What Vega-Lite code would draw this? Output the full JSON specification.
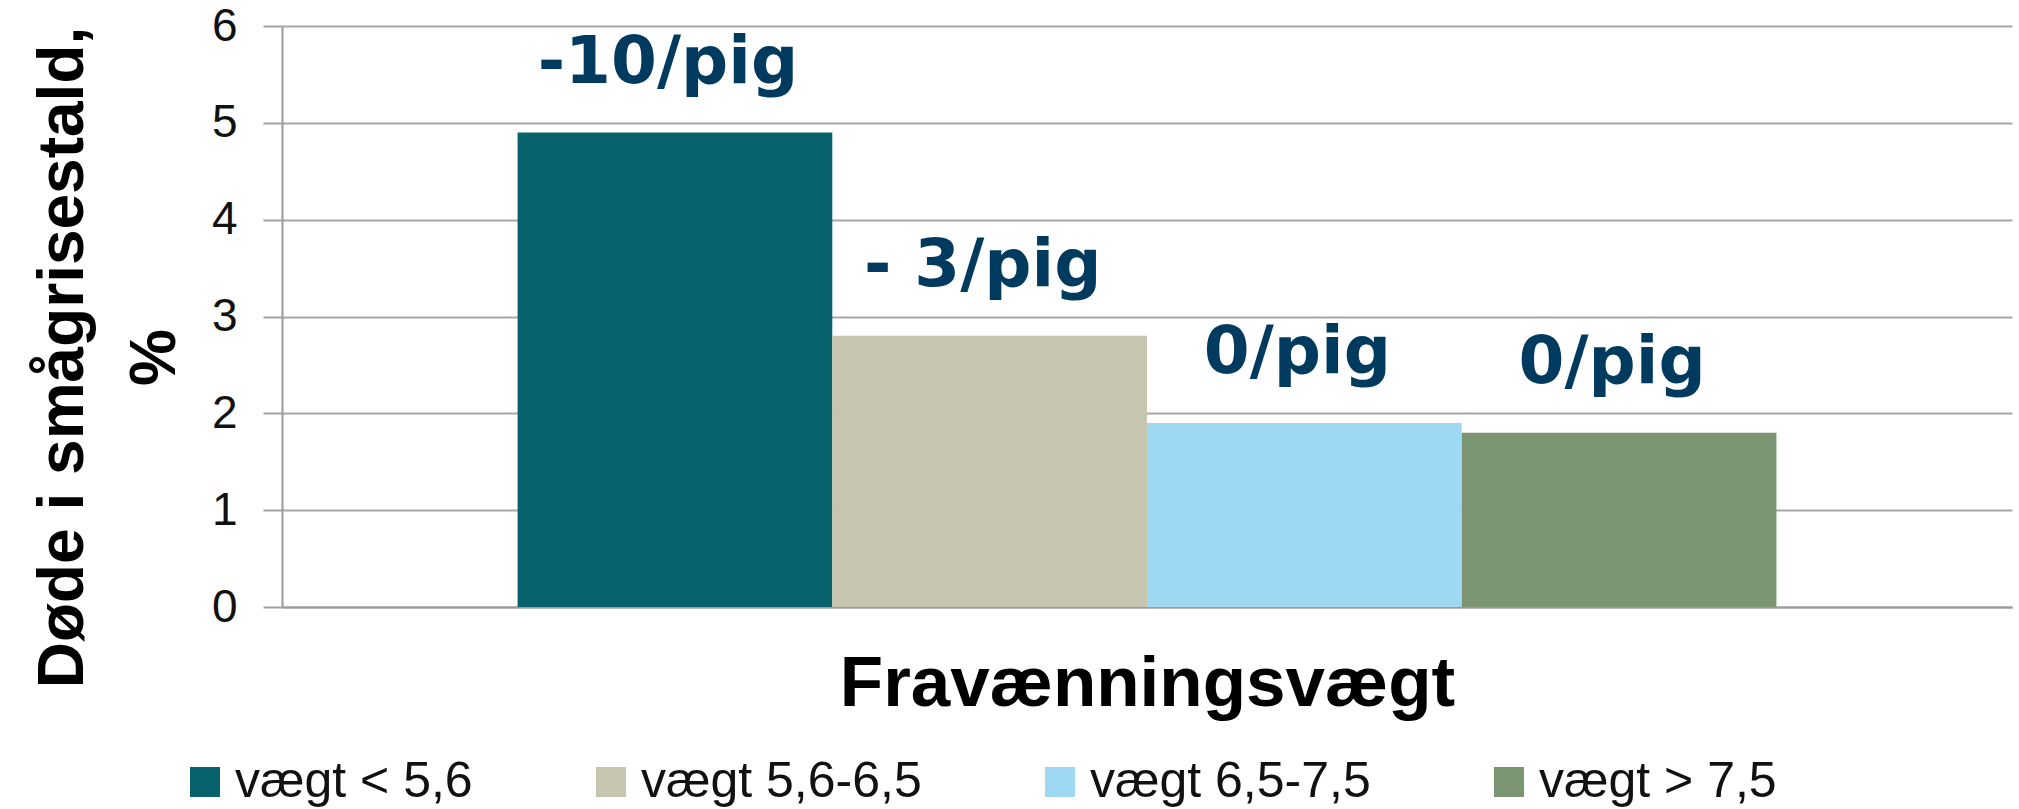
{
  "$schema": "https://vega.github.io/schema/vega-lite/v6.json",
  "width": 1730,
  "height": 581,
  "autosize": {"type": "none"},
  "padding": {"left": 282, "top": 26, "right": 7, "bottom": 202},
  "background": "white",
  "config": {"view": {"stroke": null}},
  "data": {
    "values": [
      {"kategori": "vægt < 5,6", "doede": 4.9, "label": "-10/pig"},
      {"kategori": "vægt 5,6-6,5", "doede": 2.8, "label": "- 3/pig"},
      {"kategori": "vægt 6,5-7,5", "doede": 1.9, "label": "0/pig"},
      {"kategori": "vægt > 7,5", "doede": 1.8, "label": "0/pig"}
    ]
  },
  "encoding": {
    "x": {
      "field": "kategori",
      "type": "nominal",
      "sort": null,
      "scale": {"paddingInner": 0, "paddingOuter": 0.7485},
      "axis": {
        "title": "Fravænningsvægt",
        "labels": false,
        "ticks": false,
        "grid": false,
        "domain": true,
        "domainColor": "#9a9a9a",
        "domainWidth": 2,
        "titleFont": "Liberation Sans",
        "titleFontSize": 71,
        "titleFontWeight": "bold",
        "titleColor": "#000000",
        "titleX": 865,
        "titleY": 98,
        "titleAlign": "center",
        "titleBaseline": "alphabetic"
      }
    },
    "y": {
      "field": "doede",
      "type": "quantitative",
      "scale": {"domain": [0, 6], "nice": false},
      "axis": {
        "values": [0, 1, 2, 3, 4, 5, 6],
        "title": ["Døde i smågrisestald,", "%"],
        "titleFont": "Liberation Sans",
        "titleFontSize": 64,
        "titleFontWeight": "bold",
        "titleColor": "#000000",
        "titleAngle": 270,
        "titleX": -200,
        "titleY": 331,
        "titleAlign": "center",
        "titleBaseline": "alphabetic",
        "titleLineHeight": 92,
        "labelFont": "Liberation Sans",
        "labelFontSize": 46,
        "labelColor": "#111111",
        "labelPadding": 26,
        "tickSize": 19,
        "tickColor": "#a0a0a0",
        "tickWidth": 2,
        "domainColor": "#9a9a9a",
        "domainWidth": 2,
        "grid": true,
        "gridColor": "#a8a8a8",
        "gridWidth": 2
      }
    }
  },
  "layer": [
    {
      "mark": {"type": "bar"},
      "encoding": {
        "color": {
          "field": "kategori",
          "type": "nominal",
          "sort": null,
          "scale": {
            "domain": ["vægt < 5,6", "vægt 5,6-6,5", "vægt 6,5-7,5", "vægt > 7,5"],
            "range": ["#08626e", "#c6c5b0", "#9fd8f3", "#7b9572"]
          },
          "legend": {
            "orient": "none",
            "legendX": -102,
            "legendY": 731,
            "direction": "horizontal",
            "columns": 4,
            "title": null,
            "padding": 0,
            "symbolType": "square",
            "symbolSize": 900,
            "symbolStrokeWidth": 0,
            "symbolOpacity": 1,
            "labelFont": "Liberation Sans",
            "labelFontSize": 50,
            "labelColor": "#111111",
            "labelLimit": 600,
            "labelOffset": 5,
            "columnPadding": 113
          }
        }
      }
    },
    {
      "mark": {
        "type": "text",
        "font": "DejaVu Sans",
        "fontWeight": "bold",
        "fontSize": 66,
        "color": "#003a5e",
        "align": "center",
        "baseline": "alphabetic",
        "dx": -7,
        "dy": -50
      },
      "encoding": {
        "text": {"field": "label", "type": "nominal"}
      }
    }
  ]
}
